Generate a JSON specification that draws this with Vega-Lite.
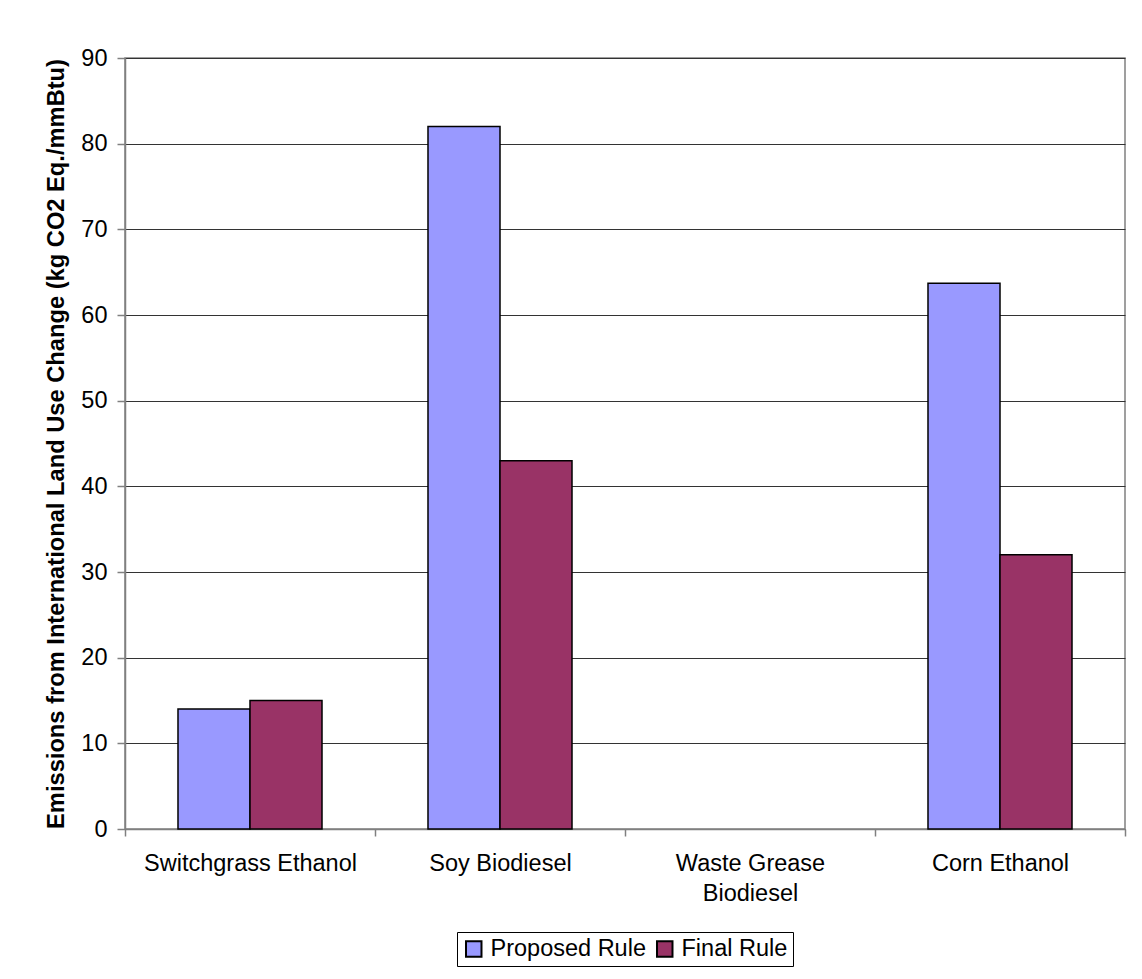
{
  "$schema": "https://vega.github.io/schema/vega-lite/v6.json",
  "autosize": {"type": "none"},
  "width": 1000,
  "height": 771,
  "padding": {"left": 125, "top": 58, "right": 17, "bottom": 150},
  "background": "white",
  "config": {
    "font": "Liberation Sans",
    "view": {"stroke": "#808080", "strokeWidth": 1.5}
  },
  "data": {
    "values": [
      {"fuel": "Switchgrass Ethanol", "rule": "Proposed Rule", "value": 14},
      {"fuel": "Switchgrass Ethanol", "rule": "Final Rule", "value": 15},
      {"fuel": "Soy Biodiesel", "rule": "Proposed Rule", "value": 82},
      {"fuel": "Soy Biodiesel", "rule": "Final Rule", "value": 43},
      {"fuel": "Waste Grease Biodiesel", "rule": "Proposed Rule", "value": null},
      {"fuel": "Waste Grease Biodiesel", "rule": "Final Rule", "value": null},
      {"fuel": "Corn Ethanol", "rule": "Proposed Rule", "value": 63.7},
      {"fuel": "Corn Ethanol", "rule": "Final Rule", "value": 32}
    ]
  },
  "mark": {"type": "bar", "stroke": "black", "strokeWidth": 1.5},
  "encoding": {
    "x": {
      "field": "fuel",
      "type": "nominal",
      "sort": ["Switchgrass Ethanol", "Soy Biodiesel", "Waste Grease Biodiesel", "Corn Ethanol"],
      "scale": {"paddingInner": 0, "paddingOuter": 0},
      "axis": {
        "title": null,
        "labelAngle": 0,
        "labelFontSize": 23.5,
        "labelLimit": 0,
        "labelColor": "black",
        "labelPadding": 15,
        "labelLineHeight": 30,
        "labelExpr": "datum.label == 'Waste Grease Biodiesel' ? ['Waste Grease', 'Biodiesel'] : datum.label",
        "tickBand": "extent",
        "tickSize": 7,
        "tickColor": "#808080",
        "tickWidth": 1.5,
        "domainColor": "#808080",
        "domainWidth": 1.5,
        "grid": false
      }
    },
    "xOffset": {
      "field": "rule",
      "type": "nominal",
      "sort": ["Proposed Rule", "Final Rule"],
      "scale": {"paddingInner": 0, "paddingOuter": 0.736}
    },
    "y": {
      "field": "value",
      "type": "quantitative",
      "scale": {"domain": [0, 90], "nice": false},
      "axis": {
        "values": [0, 10, 20, 30, 40, 50, 60, 70, 80, 90],
        "title": "Emissions from International Land Use Change (kg CO2 Eq./mmBtu)",
        "titleFontSize": 23.7,
        "titleFontWeight": "bold",
        "titleColor": "black",
        "titlePadding": 12,
        "labelFontSize": 23.5,
        "labelColor": "black",
        "labelPadding": 10,
        "tickSize": 8,
        "tickColor": "#808080",
        "tickWidth": 1.5,
        "domainColor": "#808080",
        "domainWidth": 1.5,
        "grid": true,
        "gridColor": "#333333",
        "gridWidth": 1
      }
    },
    "color": {
      "field": "rule",
      "type": "nominal",
      "sort": ["Proposed Rule", "Final Rule"],
      "scale": {"domain": ["Proposed Rule", "Final Rule"], "range": ["#9999FF", "#993366"]},
      "legend": {
        "title": null,
        "orient": "none",
        "legendX": 332,
        "legendY": 874,
        "direction": "horizontal",
        "columns": 2,
        "columnPadding": 7,
        "labelFontSize": 23.5,
        "labelColor": "black",
        "labelOffset": 5,
        "symbolType": "square",
        "symbolSize": 240,
        "symbolStrokeColor": "black",
        "symbolStrokeWidth": 2,
        "symbolOpacity": 1,
        "strokeColor": "black",
        "fillColor": "white",
        "padding": 5
      }
    }
  }
}
